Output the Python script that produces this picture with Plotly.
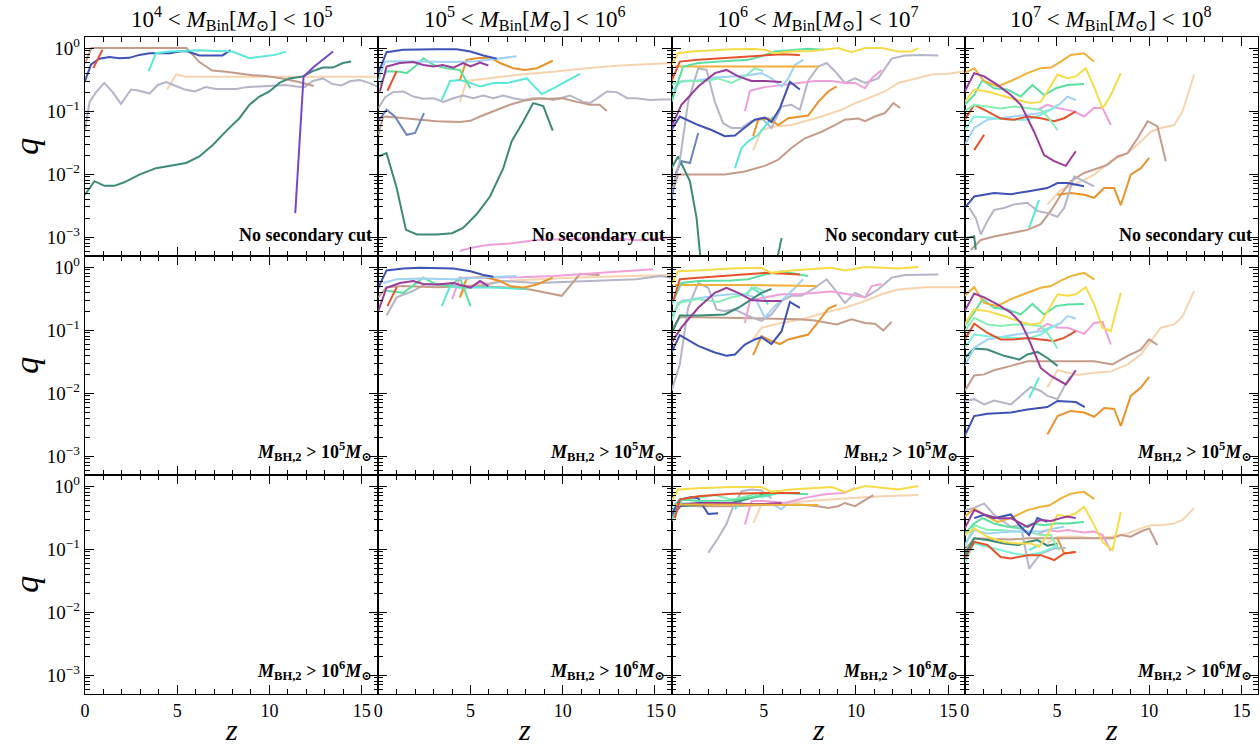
import numpy as np
import plotly.graph_objects as go
from plotly.subplots import make_subplots

# ---------------- colours ----------------
COLORS = {
    "teal": "#3c8a78", "violet": "#7448c8", "gray": "#b5b5c8", "brown": "#c49c8c",
    "blue": "#3f52b5", "slate": "#6d84c0", "cyan": "#5ae8d8", "red": "#e4532c",
    "peach": "#f7d4b0", "orange": "#e8932c", "gold": "#f1b136", "yellow": "#f6dc48",
    "green": "#5ce0a0", "seafoam": "#86eeb6", "aqua": "#7cf0d8", "lightblue": "#a0d2f4",
    "purple": "#9a3c9c", "pink": "#f0a0d8",
}

# ---------------- data: (z, q) per line ----------------
# Row 1 (no secondary cut), column 1 (1e4 - 1e5)
r1c1_teal = [(0, 0.0047), (0.51, 0.0077), (1.05, 0.0065), (1.59, 0.0065), (2.13, 0.0074), (2.95, 0.0098),
             (3.85, 0.0124), (4.76, 0.014), (5.48, 0.015), (6.2, 0.019), (6.93, 0.029), (7.65, 0.048),
             (8.37, 0.077), (8.92, 0.126), (9.46, 0.17), (10.0, 0.205), (10.54, 0.28), (11.08, 0.33),
             (11.8, 0.355), (12.35, 0.43), (12.9, 0.49), (13.44, 0.49), (13.98, 0.58), (14.43, 0.61)]
r1c1_violet = [(11.4, 0.0024), (11.85, 0.35), (12.4, 0.5), (13.45, 0.88)]
r1c1_gray = [(0, 0.05), (0.25, 0.14), (0.6, 0.2), (1.05, 0.28), (1.5, 0.2), (1.95, 0.13), (2.5, 0.22),
             (2.95, 0.21), (3.5, 0.19), (3.95, 0.26), (4.4, 0.29), (4.95, 0.25), (5.4, 0.22), (5.95, 0.205),
             (6.55, 0.24), (7.1, 0.225), (7.65, 0.225), (8.2, 0.225), (8.75, 0.24), (9.3, 0.245), (9.85, 0.245),
             (10.4, 0.25), (10.9, 0.26), (11.45, 0.245), (11.9, 0.24), (12.35, 0.30), (12.9, 0.33), (13.4, 0.27),
             (13.9, 0.255), (14.4, 0.30), (14.9, 0.31), (15.4, 0.28), (15.9, 0.24)]
r1c1_brown = [(0, 0.57), (0.35, 1.0), (1, 1.0), (2, 1.0), (3, 1.0), (4, 1.0), (5.5, 1.0), (6.2, 0.6),
              (6.9, 0.44), (7.65, 0.42), (8.4, 0.39), (9.1, 0.37), (9.8, 0.36), (10.7, 0.33), (11.6, 0.29),
              (12.4, 0.25)]
r1c1_blue = [(0, 0.3), (0.33, 0.55), (0.78, 0.68), (1.32, 0.72), (1.86, 0.69), (2.4, 0.70), (2.95, 0.78),
             (3.5, 0.83), (4.0, 0.83), (4.6, 0.83), (5.1, 0.88), (5.5, 0.9), (6.2, 0.765), (6.9, 0.765),
             (7.45, 0.765), (7.9, 0.93)]
r1c1_cyan = [(3.45, 0.43), (3.85, 0.83), (4.6, 0.88), (5.5, 0.9), (6.2, 0.92), (7.1, 0.9), (8.0, 0.88),
             (8.9, 0.69), (9.8, 0.74), (10.3, 0.78), (10.9, 0.88)]
r1c1_red = [(0.45, 0.48), (0.95, 0.94)]
r1c1_peach = [(4.45, 0.22), (4.95, 0.385), (5.4, 0.35), (5.85, 0.35), (7, 0.35), (9, 0.35), (11, 0.35),
              (13, 0.35), (15.9, 0.35)]

# Row 1, column 2 (1e5 - 1e6)
r1c2_blue = [(0, 0.40), (0.45, 0.86), (1.36, 0.94), (2.25, 0.96), (3.15, 0.96), (4.25, 0.96), (5.0, 0.885),
             (5.7, 0.765), (6.42, 0.68)]
r1c2_lightblue = [(0, 0.30), (0.36, 0.61), (1.0, 0.62), (2.26, 0.61), (4.07, 0.60), (5.33, 0.62), (6.42, 0.68),
                  (7.5, 0.74)]
r1c2_purple = [(0.09, 0.205), (0.45, 0.51), (1.18, 0.58), (1.9, 0.60), (2.45, 0.54), (3.0, 0.51), (3.5, 0.54),
               (4.07, 0.49), (4.6, 0.58), (5.0, 0.51), (5.52, 0.59), (5.97, 0.53)]
r1c2_green = [(0.09, 0.26), (0.45, 0.43), (1.18, 0.42), (1.54, 0.40), (2.0, 0.51), (2.44, 0.69), (3.0, 0.54),
              (3.7, 0.48), (4.43, 0.45), (5.0, 0.23)]
r1c2_red = [(0.5, 0.21), (1.0, 0.43)]
r1c2_orange = [(4.43, 0.31), (4.79, 0.65), (5.33, 0.69), (6.06, 0.71), (6.6, 0.58), (7.32, 0.48), (7.95, 0.45),
               (8.6, 0.48), (9.46, 0.63)]
r1c2_cyan = [(3.44, 0.15), (3.9, 0.30), (4.43, 0.31), (5.0, 0.28), (5.52, 0.246), (6.24, 0.28), (7.0, 0.28),
             (7.5, 0.30), (8.05, 0.33), (8.86, 0.186), (9.5, 0.23), (10.2, 0.30), (10.94, 0.39)]
r1c2_peach = [(4.43, 0.14), (4.79, 0.30), (5.9, 0.33), (7.7, 0.38), (9.5, 0.42), (11.3, 0.48), (13.1, 0.53),
              (14.9, 0.56), (15.9, 0.58)]
r1c2_gray = [(0, 0.11), (0.36, 0.165), (0.8, 0.2), (1.36, 0.205), (1.9, 0.17), (2.44, 0.157), (3.0, 0.16),
             (3.53, 0.14), (4.07, 0.16), (4.6, 0.177), (5.15, 0.16), (5.7, 0.177), (6.24, 0.16), (6.78, 0.177),
             (7.32, 0.16), (7.87, 0.15), (8.4, 0.16), (8.95, 0.16), (9.5, 0.15), (10.4, 0.177), (11.1, 0.14),
             (11.5, 0.134), (12.0, 0.17), (12.4, 0.205), (12.93, 0.2), (13.5, 0.16), (14.0, 0.16), (14.74, 0.15),
             (15.3, 0.153), (15.9, 0.153)]
r1c2_brown = [(0, 0.042), (0.27, 0.082), (1.0, 0.079), (2.26, 0.073), (3.16, 0.069), (4.43, 0.067), (5.0, 0.070),
              (5.52, 0.082), (6.24, 0.099), (7.14, 0.126), (7.87, 0.146), (8.6, 0.157), (9.3, 0.157), (10.0, 0.16),
              (10.76, 0.14), (11.5, 0.126), (12.0, 0.126), (12.4, 0.10)]
r1c2_slate = [(0, 0.069), (0.45, 0.105), (0.9, 0.082), (1.54, 0.042), (2.0, 0.045), (2.48, 0.093)]
r1c2_teal = [(0, 0.019), (0.45, 0.0215), (1.0, 0.006), (1.5, 0.0013), (2.1, 0.0011), (3.16, 0.0011),
             (4.0, 0.00115), (4.6, 0.0014), (5.33, 0.0023), (6.06, 0.0044), (6.78, 0.0124), (7.23, 0.033),
             (7.87, 0.069), (8.4, 0.134), (8.95, 0.12), (9.46, 0.049)]
r1c2_pink = [(4.43, 0.0006), (5.0, 0.00067), (5.9, 0.00075), (7.14, 0.00079), (8.6, 0.0009), (10.4, 0.00093),
             (12.2, 0.00099), (14.0, 0.00089), (15.3, 0.00095), (15.9, 0.001)]

# Row 1, column 3 (1e6 - 1e7)
r1c3_yellow = [(0, 0.54), (0.36, 0.83), (1.08, 0.885), (2.35, 0.94), (3.25, 0.96), (4.52, 0.97), (5.06, 0.94),
               (5.6, 0.83), (6.5, 0.885), (7.6, 0.9), (8.3, 0.94), (9.04, 1.0), (9.76, 0.86), (10.5, 1.0),
               (11.4, 1.0), (12.3, 0.885), (13.0, 0.885), (13.38, 1.0)]
r1c3_red = [(0, 0.30), (0.45, 0.61), (1.45, 0.65), (3.25, 0.71), (5.06, 0.78), (5.97, 0.80), (6.96, 0.78)]
r1c3_green = [(0, 0.14), (0.36, 0.30), (0.63, 0.51), (1.45, 0.58), (2.35, 0.61), (3.25, 0.63), (4.16, 0.65),
              (4.88, 0.74), (5.6, 0.885), (6.5, 0.94), (7.4, 0.975), (8.3, 0.94)]
r1c3_gold = [(0.18, 0.51), (2, 0.51), (4, 0.51), (6, 0.51), (7.96, 0.51)]
r1c3_seafoam = [(0, 0.26), (0.36, 0.29), (1.08, 0.30), (1.81, 0.30), (2.53, 0.33), (3.25, 0.28), (3.98, 0.355),
                (4.52, 0.48), (4.97, 0.43)]
r1c3_purple = [(0, 0.057), (0.54, 0.126), (1.45, 0.246), (2.35, 0.40), (2.98, 0.45), (3.62, 0.355), (4.34, 0.30),
               (5.06, 0.30), (5.97, 0.29)]
r1c3_lightblue = [(0, 0.205), (0.54, 0.30), (1.45, 0.31), (2.35, 0.34), (3.25, 0.355), (4.16, 0.37), (4.88, 0.40),
                  (5.42, 0.33), (5.97, 0.246), (6.33, 0.33), (6.69, 0.54), (7.14, 0.65)]
r1c3_gray = [(0.09, 0.006), (0.45, 0.016), (0.9, 0.14), (1.45, 0.48), (1.9, 0.45), (2.35, 0.14), (2.8, 0.064),
             (3.25, 0.054), (3.8, 0.054), (4.34, 0.069), (4.88, 0.077), (5.42, 0.054), (5.97, 0.118), (6.5, 0.126),
             (6.96, 0.105), (7.4, 0.30), (7.96, 0.51), (8.41, 0.58), (8.86, 0.43), (9.4, 0.28), (9.95, 0.33),
             (10.5, 0.28), (11.2, 0.33), (11.94, 0.68), (12.66, 0.765), (13.56, 0.78), (14.47, 0.765)]
r1c3_blue = [(0, 0.05), (0.45, 0.082), (1.45, 0.06), (2.17, 0.05), (2.89, 0.04), (3.44, 0.041), (3.98, 0.055),
             (4.52, 0.073), (5.06, 0.079), (5.42, 0.067), (5.88, 0.112), (6.42, 0.29), (6.96, 0.22)]
r1c3_pink = [(3.98, 0.099), (4.25, 0.21), (5.06, 0.24), (5.97, 0.26), (6.87, 0.28), (7.78, 0.30), (8.68, 0.30),
             (9.4, 0.28), (9.95, 0.28), (10.49, 0.23), (10.85, 0.33), (11.39, 0.45)]
r1c3_orange = [(4.43, 0.04), (4.7, 0.073), (5.24, 0.077), (5.79, 0.06), (6.33, 0.077), (6.87, 0.082), (7.41, 0.085),
               (7.96, 0.14), (8.5, 0.205), (8.95, 0.246)]
r1c3_cyan = [(3.44, 0.0124), (3.8, 0.026), (4.16, 0.033), (4.7, 0.042), (5.06, 0.057), (5.52, 0.082)]
r1c3_peach = [(4.43, 0.024), (4.88, 0.05), (5.6, 0.057), (6.5, 0.06), (7.23, 0.069), (8.14, 0.082), (9.22, 0.105),
              (9.95, 0.134), (10.67, 0.16), (11.57, 0.205), (12.3, 0.28), (13.2, 0.33), (14.1, 0.38), (15.0, 0.39),
              (15.9, 0.43)]
r1c3_brown = [(0, 0.0047), (0.36, 0.0098), (1.08, 0.0098), (2.89, 0.0098), (3.98, 0.011), (5.06, 0.0135),
              (5.79, 0.017), (6.5, 0.026), (7.23, 0.037), (8.14, 0.047), (8.86, 0.06), (9.4, 0.073), (10.13, 0.076),
              (10.49, 0.069), (11.03, 0.082), (11.57, 0.093), (12.03, 0.134), (12.4, 0.112)]
r1c3_slate = [(0, 0.004), (0.27, 0.011), (0.54, 0.016), (1.0, 0.015), (1.45, 0.045)]
r1c3_teal = [(0, 0.0124), (0.36, 0.019), (1.0, 0.0077), (1.36, 0.002), (1.63, 0.0003), (5.6, 0.0003),
             (5.97, 0.00096)]

# Row 1, column 4 (1e7 - 1e8)
r1c4_gold = [(0, 0.40), (0.51, 0.48), (1.05, 0.30), (1.77, 0.246), (2.5, 0.30), (3.4, 0.40), (4.12, 0.48),
             (4.67, 0.49), (5.21, 0.61), (5.75, 0.78), (6.47, 0.83), (7.0, 0.61)]
r1c4_yellow = [(0, 0.14), (0.51, 0.22), (1.23, 0.205), (2.13, 0.17), (2.86, 0.15), (3.58, 0.134), (4.12, 0.14),
               (4.48, 0.205), (5.03, 0.38), (5.57, 0.33), (6.02, 0.355), (6.56, 0.48), (7.0, 0.246), (7.47, 0.11),
               (7.92, 0.18), (8.46, 0.40)]
r1c4_purple = [(0, 0.205), (0.51, 0.40), (1.05, 0.355), (1.77, 0.26), (2.5, 0.18), (3.04, 0.126), (3.4, 0.077),
               (3.76, 0.047), (4.3, 0.020), (4.85, 0.016), (5.48, 0.0135), (5.75, 0.018), (6.02, 0.023)]
r1c4_green = [(0, 0.126), (0.51, 0.18), (0.96, 0.31), (1.59, 0.23), (2.31, 0.22), (3.04, 0.17), (3.67, 0.26),
              (4.3, 0.18), (4.94, 0.23), (5.57, 0.26), (6.47, 0.27)]
r1c4_seafoam = [(0, 0.099), (0.51, 0.126), (1.23, 0.118), (1.95, 0.11), (2.68, 0.118), (3.4, 0.11), (4.12, 0.105),
                (4.48, 0.082), (5.03, 0.05)]
r1c4_red = [(0, 0.073), (0.51, 0.126), (1.23, 0.099), (1.95, 0.076), (2.68, 0.073), (3.4, 0.082), (4.12, 0.077),
            (4.85, 0.069), (5.39, 0.077), (6.02, 0.099)]
r1c4_aqua = [(0, 0.05), (0.51, 0.082), (1.23, 0.079), (2.5, 0.073), (3.4, 0.073), (4.12, 0.087), (4.67, 0.105),
             (5.03, 0.126)]
r1c4_lightblue = [(0, 0.029), (0.51, 0.054), (1.23, 0.073), (2.5, 0.082), (3.4, 0.087), (4.12, 0.093),
                  (4.85, 0.112), (5.21, 0.134), (5.57, 0.17), (6.02, 0.15)]
r1c4_pink = [(3.94, 0.105), (4.48, 0.126), (5.03, 0.112), (5.57, 0.105), (5.93, 0.099), (6.47, 0.082),
             (7.0, 0.112), (7.47, 0.112), (7.92, 0.06)]
r1c4_red2 = [(0.51, 0.024), (1.05, 0.042)]
r1c4_blue = [(0, 0.0029), (0.51, 0.0044), (1.59, 0.005), (2.5, 0.0048), (3.4, 0.0053), (4.48, 0.006),
             (5.03, 0.0072), (5.57, 0.0072), (6.47, 0.0064)]
r1c4_gray = [(0.24, 0.0029), (0.6, 0.002), (0.87, 0.0011), (1.23, 0.0018), (1.59, 0.0027), (2.13, 0.0029),
             (2.68, 0.0033), (3.4, 0.0035), (3.94, 0.0026), (4.48, 0.0024), (5.03, 0.0021), (5.39, 0.0029),
             (5.93, 0.0092), (6.47, 0.0077), (7.0, 0.0064)]
r1c4_cyan = [(3.49, 0.0014), (4.03, 0.0039)]
r1c4_brown = [(0.33, 0.00063), (0.87, 0.0009), (1.59, 0.00102), (2.5, 0.00115), (3.4, 0.0013), (4.12, 0.0016),
              (4.67, 0.0026), (5.21, 0.0047), (5.75, 0.0077), (6.47, 0.0104), (7.2, 0.0124), (7.74, 0.014),
              (8.28, 0.019), (8.83, 0.0215), (9.37, 0.037), (9.92, 0.069), (10.45, 0.057), (10.9, 0.016)]
r1c4_peach = [(4.48, 0.0033), (5.21, 0.0056), (6.11, 0.0072), (7.02, 0.0098), (7.92, 0.016), (8.83, 0.0215),
              (9.55, 0.033), (10.09, 0.047), (10.63, 0.054), (11.36, 0.06), (11.81, 0.099), (12.44, 0.38)]
r1c4_orange = [(5.03, 0.0047), (5.75, 0.005), (6.47, 0.0047), (7.02, 0.0042), (7.56, 0.006), (8.1, 0.006),
               (8.46, 0.0032), (9.0, 0.0098), (9.55, 0.0124), (10.0, 0.018)]
r1c4_teal = [(0, 0.00096), (0.51, 0.00102), (0.6, 0.00063)]

# Row 2 (M_BH,2 > 1e5), column 2
r2c2_blue = [(0, 0.47), (0.45, 0.885), (1.36, 0.95), (2.26, 0.975), (4.07, 0.95), (5.0, 0.86), (5.7, 0.75),
             (6.24, 0.70)]
r2c2_lightblue = [(0.27, 0.56), (1.0, 0.64), (2.26, 0.66), (4.07, 0.64), (5.33, 0.68), (6.42, 0.70), (7.5, 0.72)]
r2c2_purple = [(0, 0.2), (0.45, 0.47), (1.18, 0.56), (1.9, 0.60), (2.44, 0.54), (3.16, 0.53), (4.07, 0.56),
               (4.52, 0.52), (5.0, 0.47), (5.52, 0.60), (5.97, 0.50)]
r2c2_green = [(0.45, 0.42), (1.36, 0.39), (2.44, 0.68), (3.16, 0.53), (3.9, 0.50), (4.43, 0.68), (5.0, 0.24)]
r2c2_red = [(0.5, 0.24), (1.0, 0.48)]
r2c2_gray = [(0.45, 0.17), (1.0, 0.33), (1.9, 0.42), (2.53, 0.53), (3.16, 0.54), (4.07, 0.50), (5.0, 0.47),
             (5.9, 0.53), (6.8, 0.60), (8.6, 0.56), (10.4, 0.58), (12.2, 0.61), (14.0, 0.64), (15.3, 0.72),
             (15.9, 0.68)]
r2c2_brown = [(0, 0.33), (0.45, 0.48), (1.36, 0.50), (3.16, 0.48), (4.97, 0.50), (6.78, 0.48), (8.23, 0.44),
              (9.13, 0.39), (9.95, 0.35), (10.94, 0.78), (12.0, 0.75)]
r2c2_peach = [(4.43, 0.33), (4.79, 0.50), (6.78, 0.60), (8.6, 0.64), (10.4, 0.68), (12.2, 0.70), (14.0, 0.72),
              (15.9, 0.75)]
r2c2_orange = [(4.43, 0.33), (4.79, 0.66), (5.7, 0.70), (6.6, 0.60), (7.14, 0.50), (7.87, 0.47), (8.6, 0.53),
               (9.46, 0.68)]
r2c2_cyan = [(3.44, 0.24), (3.9, 0.50), (4.43, 0.47), (5.5, 0.48), (6.5, 0.47), (7.5, 0.45), (8.05, 0.45)]
r2c2_pink = [(4.0, 0.31), (4.43, 0.68), (5.9, 0.68), (7.7, 0.69), (9.5, 0.72), (11.3, 0.78), (13.1, 0.86),
             (14.9, 0.92)]

# Row 2, column 3
r2c3_yellow = [(0, 0.53), (0.36, 0.86), (1.45, 0.885), (3.25, 0.95), (4.88, 0.975), (5.42, 0.81), (6.5, 0.885),
               (7.6, 0.92), (8.68, 0.975), (9.4, 0.885), (10.49, 1.0), (12.3, 0.95), (13.38, 1.0)]
r2c3_red = [(0.09, 0.29), (0.45, 0.64), (1.45, 0.68), (3.25, 0.75), (5.06, 0.81), (6.96, 0.76)]
r2c3_green = [(0, 0.255), (0.54, 0.56), (1.45, 0.60), (3.25, 0.61), (4.16, 0.64), (5.06, 0.76), (5.97, 0.86),
              (7.4, 0.72)]
r2c3_gold = [(0.18, 0.52), (4, 0.52), (7.87, 0.50)]
r2c3_seafoam = [(0, 0.14), (0.36, 0.27), (1.45, 0.31), (2.53, 0.28), (3.25, 0.33), (3.98, 0.37), (4.52, 0.48),
                (4.97, 0.42)]
r2c3_teal = [(0.09, 0.10), (0.45, 0.17), (1.45, 0.17), (2.89, 0.177), (3.62, 0.226), (4.34, 0.31), (4.88, 0.39),
             (5.42, 0.45)]
r2c3_purple = [(0, 0.063), (0.54, 0.11), (1.45, 0.226), (2.35, 0.39), (2.98, 0.47), (3.62, 0.39), (4.34, 0.30),
               (5.06, 0.29), (5.97, 0.29)]
r2c3_lightblue = [(0, 0.177), (0.54, 0.29), (1.45, 0.32), (2.35, 0.35), (3.25, 0.37), (3.98, 0.37), (4.52, 0.33),
                  (5.06, 0.157), (5.6, 0.24), (6.15, 0.33), (6.69, 0.47), (7.14, 0.64)]
r2c3_gray = [(0, 0.0108), (0.45, 0.0285), (0.9, 0.226), (1.45, 0.56), (1.99, 0.47), (2.44, 0.213), (2.89, 0.2),
             (3.44, 0.213), (4.16, 0.167), (4.88, 0.14), (5.42, 0.177), (5.97, 0.29), (6.5, 0.35), (7.05, 0.35),
             (7.78, 0.47), (8.41, 0.64), (8.86, 0.44), (9.4, 0.27), (9.95, 0.39), (10.49, 0.33), (11.2, 0.44),
             (11.94, 0.68), (12.66, 0.75), (13.56, 0.76), (14.47, 0.76)]
r2c3_blue = [(0, 0.044), (0.45, 0.083), (1.45, 0.056), (2.35, 0.044), (2.98, 0.039), (3.44, 0.041), (3.98, 0.059),
             (4.52, 0.071), (4.88, 0.077), (5.42, 0.06), (5.97, 0.096), (6.42, 0.28), (6.96, 0.226)]
r2c3_pink = [(3.98, 0.13), (4.25, 0.29), (5.06, 0.33), (5.97, 0.37), (6.87, 0.37), (7.78, 0.39), (8.68, 0.41),
             (9.58, 0.37), (10.49, 0.33), (10.85, 0.50), (11.39, 0.54)]
r2c3_brown = [(0.09, 0.11), (0.45, 0.16), (1.45, 0.16), (3.25, 0.157), (5.06, 0.153), (6.87, 0.148), (7.78, 0.142),
              (8.95, 0.123), (9.76, 0.148), (10.49, 0.13), (11.03, 0.126), (11.48, 0.099), (11.94, 0.135)]
r2c3_peach = [(4.43, 0.071), (4.88, 0.109), (5.97, 0.13), (7.23, 0.153), (8.32, 0.19), (9.4, 0.226), (10.49, 0.29),
              (11.39, 0.37), (12.3, 0.44), (13.74, 0.48), (15.9, 0.48)]
r2c3_orange = [(4.43, 0.04), (4.88, 0.08), (5.42, 0.067), (5.88, 0.06), (6.33, 0.071), (6.87, 0.077), (7.41, 0.085),
               (7.96, 0.135), (8.5, 0.22), (8.95, 0.25)]
r2c3_cyan = [(3.98, 0.33), (4.34, 0.47), (4.88, 0.37), (5.24, 0.255)]

# Row 2, column 4
r2c4_gold = [(0, 0.35), (0.51, 0.48), (1.05, 0.27), (1.77, 0.24), (2.5, 0.31), (3.4, 0.39), (4.12, 0.47),
             (4.67, 0.50), (5.21, 0.61), (5.75, 0.72), (6.47, 0.81), (7.02, 0.64)]
r2c4_yellow = [(0, 0.123), (0.51, 0.213), (1.23, 0.2), (2.13, 0.167), (2.86, 0.14), (3.58, 0.123), (4.12, 0.13),
               (4.48, 0.2), (5.03, 0.37), (5.57, 0.35), (6.02, 0.37), (6.56, 0.48), (7.02, 0.255), (7.47, 0.109),
               (7.92, 0.096), (8.46, 0.39)]
r2c4_purple = [(0, 0.2), (0.51, 0.38), (1.05, 0.33), (1.77, 0.255), (2.5, 0.19), (3.04, 0.13), (3.4, 0.08),
               (3.76, 0.046), (4.12, 0.025), (4.67, 0.0187), (5.48, 0.0137), (5.75, 0.0175), (6.02, 0.023)]
r2c4_green = [(0, 0.116), (0.51, 0.19), (0.96, 0.31), (1.59, 0.226), (2.31, 0.213), (3.04, 0.177), (3.67, 0.26),
              (4.3, 0.177), (4.94, 0.24), (5.57, 0.255), (6.47, 0.26)]
r2c4_seafoam = [(0, 0.096), (0.51, 0.157), (1.23, 0.123), (1.95, 0.116), (2.68, 0.123), (3.4, 0.123),
                (4.12, 0.116), (4.48, 0.09), (5.03, 0.051)]
r2c4_red = [(0, 0.071), (0.51, 0.126), (1.23, 0.09), (1.95, 0.071), (2.68, 0.071), (3.4, 0.075), (4.12, 0.071),
            (4.85, 0.067), (5.39, 0.075), (6.02, 0.096)]
r2c4_aqua = [(0, 0.052), (0.51, 0.085), (1.23, 0.08), (2.5, 0.075), (3.4, 0.073), (4.12, 0.085), (4.67, 0.109),
             (5.03, 0.123)]
r2c4_lightblue = [(0, 0.027), (0.51, 0.052), (1.23, 0.071), (2.5, 0.083), (3.4, 0.09), (4.12, 0.096),
                  (4.85, 0.116), (5.21, 0.13), (5.57, 0.167), (6.02, 0.153)]
r2c4_pink = [(3.94, 0.10), (4.48, 0.126), (5.03, 0.11), (5.57, 0.109), (5.93, 0.10), (6.47, 0.087), (7.02, 0.13),
             (7.47, 0.135), (7.92, 0.059)]
r2c4_teal = [(0, 0.036), (0.51, 0.051), (1.23, 0.049), (2.13, 0.039), (2.95, 0.034), (3.4, 0.041), (3.94, 0.045),
             (4.48, 0.036), (5.03, 0.027)]
r2c4_brown = [(0, 0.0108), (0.51, 0.019), (1.05, 0.0198), (1.59, 0.023), (2.5, 0.027), (3.4, 0.032), (4.3, 0.032),
              (5.21, 0.032), (6.11, 0.032), (7.02, 0.032), (8.01, 0.0285), (8.83, 0.039), (9.55, 0.049),
              (10.0, 0.071), (10.45, 0.058)]
r2c4_peach = [(4.48, 0.0122), (5.03, 0.023), (6.11, 0.0193), (7.02, 0.021), (7.92, 0.022), (8.83, 0.0285),
              (9.55, 0.041), (10.09, 0.067), (10.63, 0.109), (11.36, 0.123), (11.81, 0.167), (12.44, 0.42)]
r2c4_gray = [(0, 0.0075), (0.51, 0.008), (1.05, 0.0066), (1.59, 0.0076), (2.5, 0.0066), (3.04, 0.009),
             (3.58, 0.0125), (4.12, 0.0108), (4.48, 0.009), (5.03, 0.008), (5.39, 0.0126), (5.75, 0.0187)]
r2c4_cyan = [(3.49, 0.0084), (4.03, 0.0175)]
r2c4_blue = [(0, 0.0021), (0.51, 0.0043), (1.23, 0.0047), (2.5, 0.0049), (3.4, 0.0055), (4.48, 0.006),
             (5.03, 0.0075), (6.02, 0.0072), (6.51, 0.006)]
r2c4_orange = [(4.48, 0.0022), (5.03, 0.0043), (5.75, 0.0052), (6.47, 0.0049), (7.02, 0.0042), (7.56, 0.0058),
               (8.1, 0.0056), (8.46, 0.003), (9.0, 0.009), (9.55, 0.0122), (10.0, 0.018)]

# Row 3 (M_BH,2 > 1e6), column 3
r3c3_yellow = [(0, 0.58), (0.36, 0.885), (1.45, 0.92), (3.25, 0.965), (4.88, 0.965), (5.42, 0.81), (6.5, 0.885),
               (7.6, 0.92), (8.68, 0.965), (9.4, 0.81), (10.49, 1.0), (12.3, 0.885), (13.38, 1.0)]
r3c3_red = [(0.18, 0.31), (0.45, 0.61), (1.45, 0.69), (3.25, 0.755), (5.06, 0.78), (6.96, 0.78)]
r3c3_green = [(0, 0.28), (0.54, 0.61), (1.45, 0.58), (3.25, 0.59), (5.06, 0.72), (5.97, 0.78), (7.4, 0.74)]
r3c3_gold = [(0.18, 0.51), (4, 0.51), (7.96, 0.50)]
r3c3_blue = [(0, 0.355), (0.45, 0.61), (1.08, 0.67), (1.45, 0.64), (1.72, 0.48), (1.99, 0.36), (2.53, 0.37)]
r3c3_gray = [(1.99, 0.087), (2.53, 0.15), (2.98, 0.25), (3.35, 0.48), (3.8, 0.83), (4.34, 0.885), (4.88, 0.85),
             (5.42, 0.64)]
r3c3_purple = [(0, 0.31), (0.54, 0.51), (1.45, 0.54), (2.35, 0.54), (3.25, 0.54), (4.16, 0.52), (5.06, 0.52),
               (5.97, 0.54)]
r3c3_lightblue = [(0, 0.40), (0.54, 0.54), (1.45, 0.52), (3.25, 0.51), (4.7, 0.51), (5.42, 0.52), (5.97, 0.43),
                  (6.33, 0.54)]
r3c3_pink = [(3.98, 0.246), (4.34, 0.58), (5.06, 0.58), (6.15, 0.54), (7.23, 0.65), (8.32, 0.74), (9.4, 0.78),
             (9.95, 0.94)]
r3c3_peach = [(4.43, 0.26), (4.88, 0.51), (5.97, 0.54), (7.78, 0.58), (9.58, 0.64), (11.39, 0.69), (13.38, 0.72)]
r3c3_brown = [(0, 0.31), (0.45, 0.50), (1.45, 0.48), (3.25, 0.48), (5.06, 0.50), (6.87, 0.51), (7.96, 0.48),
              (8.5, 0.45), (9.04, 0.48), (9.4, 0.54), (9.95, 0.48), (10.49, 0.59), (10.94, 0.72)]
r3c3_seafoam = [(0, 0.45), (0.36, 0.58), (1.45, 0.65), (2.35, 0.72), (3.25, 0.61), (3.98, 0.69), (4.52, 0.74),
                (4.97, 0.65)]
r3c3_cyan = [(3.44, 0.43), (3.8, 0.59), (4.34, 0.65), (5.06, 0.69), (5.52, 0.74)]
r3c3_teal = [(0, 0.355), (0.45, 0.48), (1.45, 0.50), (3.25, 0.54), (4.34, 0.65), (5.06, 0.755), (5.42, 0.81)]

# Row 3, column 4
r3c4_gold = [(0, 0.33), (0.51, 0.44), (1.05, 0.35), (1.77, 0.27), (2.5, 0.31), (3.4, 0.415), (4.12, 0.47),
             (4.58, 0.49), (5.21, 0.64), (5.75, 0.76), (6.47, 0.81), (7.02, 0.62)]
r3c4_yellow = [(0, 0.167), (0.51, 0.213), (1.23, 0.157), (2.13, 0.13), (2.86, 0.123), (3.58, 0.123), (4.03, 0.109),
               (4.48, 0.167), (5.03, 0.35), (5.57, 0.33), (6.02, 0.37), (6.47, 0.47), (7.02, 0.24), (7.47, 0.13),
               (8.01, 0.096), (8.46, 0.39)]
r3c4_purple = [(0, 0.213), (0.51, 0.415), (1.05, 0.355), (1.77, 0.31), (2.5, 0.31), (3.4, 0.226), (4.12, 0.29),
               (4.67, 0.28), (5.21, 0.31), (5.57, 0.33), (6.02, 0.31)]
r3c4_blue = [(0.51, 0.31), (1.05, 0.35), (1.59, 0.31), (2.04, 0.33), (2.5, 0.355), (2.95, 0.24), (3.49, 0.167),
             (3.94, 0.31), (4.48, 0.27)]
r3c4_gray = [(0, 0.415), (0.51, 0.45), (1.05, 0.53), (1.59, 0.35), (2.5, 0.226), (3.04, 0.24), (3.49, 0.049),
             (4.12, 0.085), (4.85, 0.102), (5.48, 0.105)]
r3c4_green = [(0, 0.177), (0.51, 0.255), (0.96, 0.31), (1.59, 0.255), (2.31, 0.226), (3.04, 0.213), (3.67, 0.255),
              (4.3, 0.24), (4.94, 0.255), (5.57, 0.255), (6.47, 0.27)]
r3c4_lightblue = [(0, 0.116), (0.51, 0.2), (1.23, 0.177), (2.5, 0.19), (3.4, 0.19), (4.12, 0.19), (4.85, 0.213),
                  (5.39, 0.226)]
r3c4_seafoam = [(0, 0.109), (0.51, 0.24), (1.23, 0.2), (1.95, 0.2), (2.68, 0.19), (3.4, 0.19), (4.12, 0.167),
                (4.67, 0.167), (5.1, 0.096)]
r3c4_teal = [(0, 0.08), (0.51, 0.148), (1.23, 0.139), (2.13, 0.123), (2.95, 0.116), (3.4, 0.13), (3.94, 0.139),
             (4.48, 0.113), (5.03, 0.123)]
r3c4_red = [(0, 0.071), (0.51, 0.13), (1.23, 0.116), (1.95, 0.075), (2.5, 0.071), (3.4, 0.08), (4.12, 0.08),
            (4.85, 0.067), (5.39, 0.085), (6.02, 0.09)]
r3c4_aqua = [(0, 0.061), (0.51, 0.123), (1.23, 0.109), (1.95, 0.096), (2.68, 0.085), (3.4, 0.08), (4.12, 0.088),
             (4.67, 0.102), (5.03, 0.116)]
r3c4_brown = [(0, 0.096), (0.51, 0.148), (1.59, 0.144), (2.5, 0.142), (3.4, 0.148), (4.3, 0.148), (5.21, 0.15),
              (6.11, 0.148), (7.02, 0.148), (8.01, 0.148), (8.46, 0.167), (9.0, 0.157), (9.55, 0.19), (10.0, 0.213),
              (10.45, 0.116)]
r3c4_peach = [(4.48, 0.123), (5.03, 0.157), (6.11, 0.157), (7.02, 0.148), (7.92, 0.157), (8.83, 0.177),
              (9.55, 0.213), (10.09, 0.24), (10.63, 0.24), (11.36, 0.255), (11.81, 0.29), (12.44, 0.45)]
r3c4_pink = [(3.94, 0.17), (4.48, 0.2), (5.03, 0.19), (5.57, 0.2), (6.11, 0.19), (6.47, 0.184), (7.02, 0.19),
             (7.47, 0.167), (7.92, 0.093)]
r3c4_orange = [(5.03, 0.148), (5.39, 0.085), (6.02, 0.09)]
r3c4_cyan = [(3.49, 0.096), (4.03, 0.116)]

PANELS = {
    (1, 1): [("peach", r1c1_peach), ("gray", r1c1_gray), ("brown", r1c1_brown), ("blue", r1c1_blue),
             ("cyan", r1c1_cyan), ("red", r1c1_red), ("teal", r1c1_teal), ("violet", r1c1_violet)],
    (1, 2): [("peach", r1c2_peach), ("gray", r1c2_gray), ("brown", r1c2_brown), ("pink", r1c2_pink),
             ("slate", r1c2_slate), ("teal", r1c2_teal), ("cyan", r1c2_cyan), ("orange", r1c2_orange),
             ("green", r1c2_green), ("red", r1c2_red), ("lightblue", r1c2_lightblue), ("purple", r1c2_purple),
             ("blue", r1c2_blue)],
    (1, 3): [("peach", r1c3_peach), ("brown", r1c3_brown), ("slate", r1c3_slate), ("teal", r1c3_teal),
             ("gray", r1c3_gray), ("cyan", r1c3_cyan), ("orange", r1c3_orange), ("pink", r1c3_pink),
             ("lightblue", r1c3_lightblue), ("seafoam", r1c3_seafoam), ("purple", r1c3_purple),
             ("blue", r1c3_blue), ("gold", r1c3_gold), ("green", r1c3_green), ("red", r1c3_red),
             ("yellow", r1c3_yellow)],
    (1, 4): [("peach", r1c4_peach), ("brown", r1c4_brown), ("orange", r1c4_orange), ("gray", r1c4_gray),
             ("cyan", r1c4_cyan), ("teal", r1c4_teal), ("blue", r1c4_blue), ("red", r1c4_red2),
             ("pink", r1c4_pink), ("lightblue", r1c4_lightblue), ("aqua", r1c4_aqua), ("red", r1c4_red),
             ("seafoam", r1c4_seafoam), ("green", r1c4_green), ("yellow", r1c4_yellow), ("gold", r1c4_gold),
             ("purple", r1c4_purple)],
    (2, 1): [],
    (2, 2): [("peach", r2c2_peach), ("gray", r2c2_gray), ("brown", r2c2_brown), ("pink", r2c2_pink),
             ("cyan", r2c2_cyan), ("orange", r2c2_orange), ("green", r2c2_green), ("red", r2c2_red),
             ("lightblue", r2c2_lightblue), ("purple", r2c2_purple), ("blue", r2c2_blue)],
    (2, 3): [("peach", r2c3_peach), ("brown", r2c3_brown), ("gray", r2c3_gray), ("cyan", r2c3_cyan),
             ("orange", r2c3_orange), ("pink", r2c3_pink), ("lightblue", r2c3_lightblue), ("teal", r2c3_teal),
             ("seafoam", r2c3_seafoam), ("purple", r2c3_purple), ("blue", r2c3_blue), ("gold", r2c3_gold),
             ("green", r2c3_green), ("red", r2c3_red), ("yellow", r2c3_yellow)],
    (2, 4): [("peach", r2c4_peach), ("brown", r2c4_brown), ("orange", r2c4_orange), ("gray", r2c4_gray),
             ("cyan", r2c4_cyan), ("blue", r2c4_blue), ("teal", r2c4_teal), ("pink", r2c4_pink),
             ("lightblue", r2c4_lightblue), ("aqua", r2c4_aqua), ("red", r2c4_red), ("seafoam", r2c4_seafoam),
             ("green", r2c4_green), ("yellow", r2c4_yellow), ("gold", r2c4_gold), ("purple", r2c4_purple)],
    (3, 1): [],
    (3, 2): [],
    (3, 3): [("peach", r3c3_peach), ("brown", r3c3_brown), ("gray", r3c3_gray), ("pink", r3c3_pink),
             ("cyan", r3c3_cyan), ("lightblue", r3c3_lightblue), ("teal", r3c3_teal), ("seafoam", r3c3_seafoam),
             ("purple", r3c3_purple), ("blue", r3c3_blue), ("gold", r3c3_gold), ("green", r3c3_green),
             ("red", r3c3_red), ("yellow", r3c3_yellow)],
    (3, 4): [("peach", r3c4_peach), ("brown", r3c4_brown), ("orange", r3c4_orange), ("gray", r3c4_gray),
             ("cyan", r3c4_cyan), ("pink", r3c4_pink), ("aqua", r3c4_aqua), ("red", r3c4_red),
             ("teal", r3c4_teal), ("seafoam", r3c4_seafoam), ("lightblue", r3c4_lightblue),
             ("green", r3c4_green), ("yellow", r3c4_yellow), ("gold", r3c4_gold), ("blue", r3c4_blue),
             ("purple", r3c4_purple)],
}

COL_TITLES = [
    "10<sup>4</sup> &lt; <i>M</i><sub>Bin</sub>[<i>M</i><sub>⊙</sub>] &lt; 10<sup>5</sup>",
    "10<sup>5</sup> &lt; <i>M</i><sub>Bin</sub>[<i>M</i><sub>⊙</sub>] &lt; 10<sup>6</sup>",
    "10<sup>6</sup> &lt; <i>M</i><sub>Bin</sub>[<i>M</i><sub>⊙</sub>] &lt; 10<sup>7</sup>",
    "10<sup>7</sup> &lt; <i>M</i><sub>Bin</sub>[<i>M</i><sub>⊙</sub>] &lt; 10<sup>8</sup>",
]
ROW_LABELS = [
    "<b>No secondary cut</b>",
    "<b><i>M</i><sub>BH,2</sub> &gt; 10<sup>5</sup><i>M</i><sub>⊙</sub></b>",
    "<b><i>M</i><sub>BH,2</sub> &gt; 10<sup>6</sup><i>M</i><sub>⊙</sub></b>",
]
X_TICKS = [0, 5, 10, 15]
Y_TICKS = [1e-3, 1e-2, 1e-1, 1.0]
Y_TICKTEXT = ["10<sup>−3</sup>", "10<sup>−2</sup>", "10<sup>−1</sup>", "10<sup>0</sup>"]
X_RANGE = [0, 15.9]
Y_MIN, Y_MAX = 5e-4, 1.5

SERIF = "Liberation Serif, DejaVu Serif, serif"

fig = make_subplots(rows=3, cols=4, horizontal_spacing=0, vertical_spacing=0)

for (r, c), lines in PANELS.items():
    # an empty placeholder trace so that every panel draws its axes
    fig.add_trace(go.Scatter(x=[None], y=[None], mode="lines", showlegend=False, hoverinfo="skip"),
                  row=r, col=c)
    for name, pts in lines:
        fig.add_trace(go.Scatter(x=[p[0] for p in pts], y=[p[1] for p in pts], mode="lines",
                                 line=dict(color=COLORS[name], width=2), showlegend=False,
                                 hoverinfo="skip"), row=r, col=c)

minor_y = [m * 10.0 ** e for e in range(-4, 1) for m in range(2, 10) if Y_MIN <= m * 10.0 ** e <= Y_MAX]

for r in range(1, 4):
    for c in range(1, 5):
        fig.update_xaxes(row=r, col=c, range=X_RANGE, tickmode="array", tickvals=X_TICKS,
                         ticktext=[str(v) for v in X_TICKS], showticklabels=(r == 3),
                         ticks="inside", ticklen=9, tickwidth=1.3, tickcolor="black",
                         mirror="allticks", showline=True, linecolor="black", linewidth=1.4,
                         showgrid=False, zeroline=False,
                         tickfont=dict(family=SERIF, size=18, color="black"),
                         minor=dict(tickmode="array", tickvals=list(range(0, 16)), ticks="inside",
                                    ticklen=4.5, tickwidth=1.1, tickcolor="black", showgrid=False))
        fig.update_yaxes(row=r, col=c, type="log", range=[np.log10(Y_MIN), np.log10(Y_MAX)],
                         tickmode="array", tickvals=Y_TICKS, ticktext=Y_TICKTEXT,
                         showticklabels=(c == 1), ticks="inside", ticklen=9, tickwidth=1.3,
                         tickcolor="black", mirror="allticks", showline=True, linecolor="black",
                         linewidth=1.4, showgrid=False, zeroline=False,
                         tickfont=dict(family=SERIF, size=19, color="black"),
                         minor=dict(tickmode="array", tickvals=minor_y, ticks="inside", ticklen=4.5,
                                    tickwidth=1.1, tickcolor="black", showgrid=False))

annotations = []
for c in range(4):
    annotations.append(dict(text=COL_TITLES[c], xref="paper", yref="paper", x=(c + 0.5) / 4, y=1,
                            xanchor="center", yanchor="bottom", yshift=1, showarrow=False,
                            font=dict(family=SERIF, size=23, color="black")))
    annotations.append(dict(text="<i>z</i>", xref="paper", yref="paper", x=(c + 0.5) / 4, y=-0.054,
                            xanchor="center", yanchor="middle", showarrow=False,
                            font=dict(family=SERIF, size=30, color="black")))
for r in range(3):
    annotations.append(dict(text="<i>q</i>", xref="paper", yref="paper", x=-0.05, y=1 - (r + 0.5) / 3,
                            xanchor="center", yanchor="middle", textangle=-90, showarrow=False,
                            font=dict(family=SERIF, size=34, color="black")))
    for c in range(4):
        n = r * 4 + c + 1
        xa = "x" if n == 1 else f"x{n}"
        ya = "y" if n == 1 else f"y{n}"
        annotations.append(dict(text=ROW_LABELS[r], xref=f"{xa} domain", yref=f"{ya} domain",
                                x=0.985, y=0.04, xanchor="right", yanchor="bottom", showarrow=False,
                                font=dict(family=SERIF, size=18, color="black")))

fig.update_layout(width=1260, height=752, margin=dict(l=85, r=2, t=37, b=58),
                  paper_bgcolor="white", plot_bgcolor="white", annotations=annotations,
                  font=dict(family=SERIF, color="black"))

fig.write_html("out.html")
